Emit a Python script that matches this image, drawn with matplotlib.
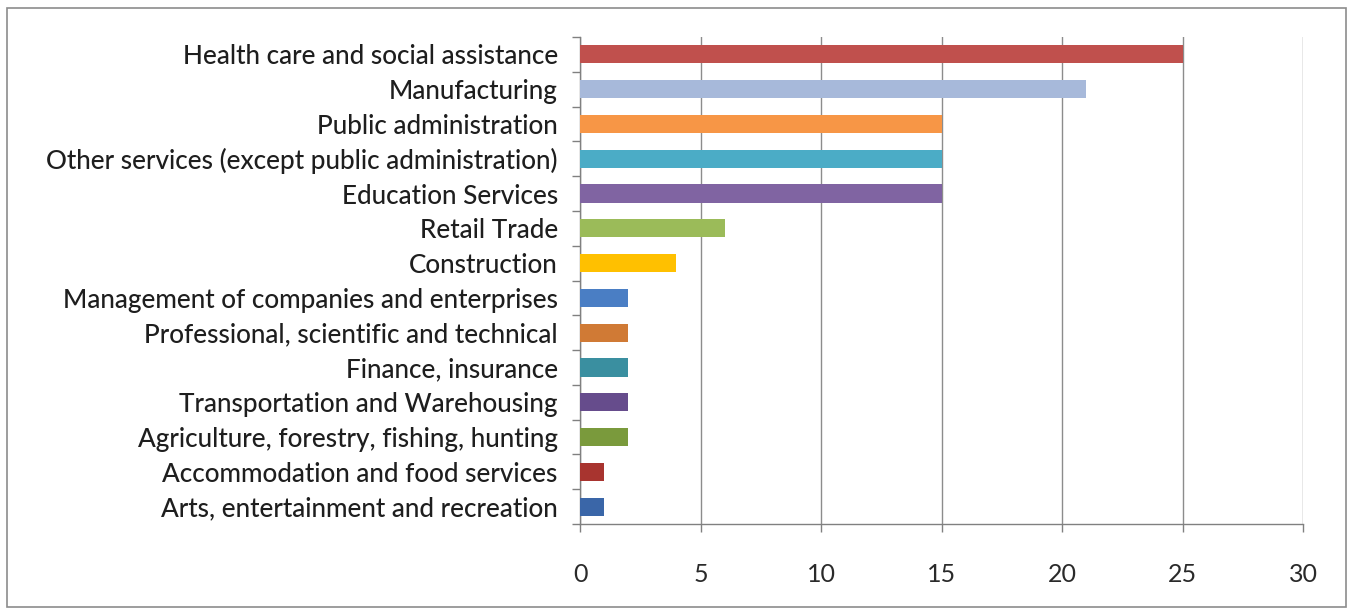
import matplotlib.pyplot as plt
from matplotlib.patches import Rectangle

# data, top to bottom as in the chart
industries = [
    'Health care and social assistance',
    'Manufacturing',
    'Public administration',
    'Other services (except public administration)',
    'Education Services',
    'Retail Trade',
    'Construction',
    'Management of companies and enterprises',
    'Professional, scientific and technical',
    'Finance, insurance',
    'Transportation and Warehousing',
    'Agriculture, forestry, fishing, hunting',
    'Accommodation and food services',
    'Arts, entertainment and recreation',
]
counts = [25, 21, 15, 15, 15, 6, 4, 2, 2, 2, 2, 2, 1, 1]
bar_colors = ['#C0504D', '#A7B9DA', '#F79646', '#4BACC6', '#8064A2', '#9BBB59',
              '#FFC000', '#4A7EC4', '#D07A35', '#3A8FA0', '#664C8C', '#7A9A3C',
              '#A8342F', '#3A66A8']
x_ticks = [0, 5, 10, 15, 20, 25, 30]

plt.rcParams['font.family'] = ['Lato', 'DejaVu Sans']

fig = plt.figure(figsize=(13.5, 6.11), dpi=100)
ax = fig.add_axes([580 / 1350, 1 - 524 / 611, (1303 - 580) / 1350, (524 - 37) / 611])

n = len(industries)
pos = list(range(n))[::-1]
ax.barh(pos, counts, height=0.52, color=bar_colors, zorder=3)

ax.set_xlim(0, 30)
ax.set_ylim(-0.5, n - 0.5)
ax.set_xticks(x_ticks)
ax.set_xticklabels([str(t) for t in x_ticks], fontsize=18, color='#2a2a2a')
ax.tick_params(axis='x', length=6, width=1, color='#808080', pad=22)
ax.xaxis.grid(True, color='#8c8c8c', linewidth=1, zorder=0)

# labels at category centres, tick marks at category boundaries
ax.set_yticks(pos)
ax.set_yticklabels(industries, fontsize=18.8, color='#1e1e1e', fontweight='medium')
ax.tick_params(axis='y', length=0, pad=16)
ax.set_yticks([p - 0.5 for p in range(n + 1)], minor=True)
ax.tick_params(axis='y', which='minor', length=6, width=1, color='#808080')

for side in ['top', 'right']:
    ax.spines[side].set_visible(False)
for side in ['left', 'bottom']:
    ax.spines[side].set_color('#808080')
    ax.spines[side].set_linewidth(1)

# outer chart border
fig.patches.append(Rectangle((7 / 1350, 1 - 607 / 611), 1339 / 1350, 599 / 611,
                             transform=fig.transFigure, fill=False,
                             edgecolor='#8c8c8c', linewidth=1.2))

fig.savefig('out.png', dpi=100)
